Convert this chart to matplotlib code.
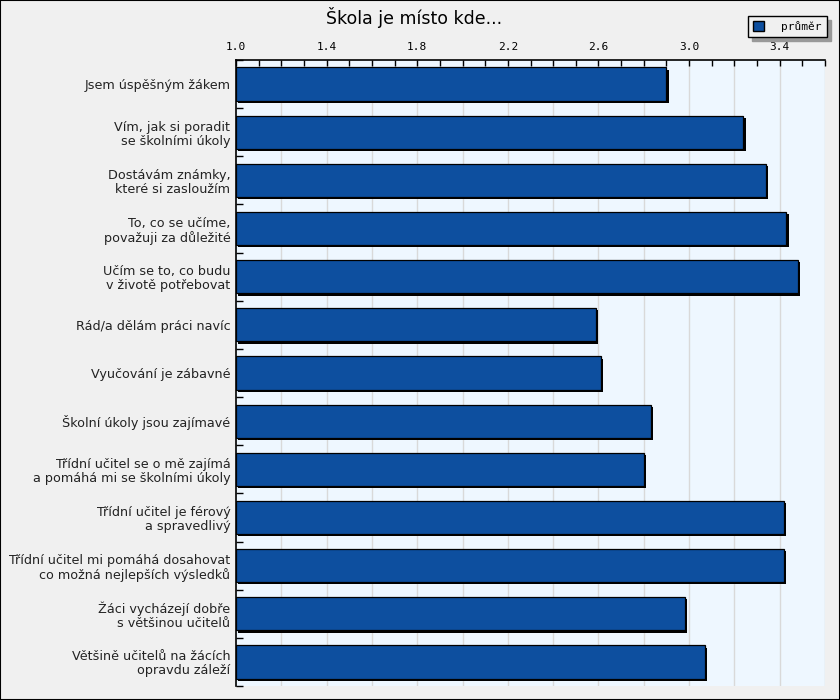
import matplotlib.pyplot as plt
import matplotlib.patheffects as pe
from matplotlib.patches import Patch
from matplotlib.ticker import MultipleLocator

# Data
categories = [
    "Jsem úspěšným žákem",
    "Vím, jak si poradit\nse školními úkoly",
    "Dostávám známky,\nkteré si zasloužím",
    "To, co se učíme,\npovažuji za důležité",
    "Učím se to, co budu\nv životě potřebovat",
    "Rád/a dělám práci navíc",
    "Vyučování je zábavné",
    "Školní úkoly jsou zajímavé",
    "Třídní učitel se o mě zajímá\na pomáhá mi se školními úkoly",
    "Třídní učitel je férový\na spravedlivý",
    "Třídní učitel mi pomáhá dosahovat\nco možná nejlepších výsledků",
    "Žáci vycházejí dobře\ns většinou učitelů",
    "Většině učitelů na žácích\nopravdu záleží",
]
prumer = [2.90, 3.24, 3.34, 3.43, 3.48, 2.59, 2.61, 2.83, 2.80, 3.42, 3.42, 2.98, 3.07]
series_name = "průměr"
title = "Škola je místo kde..."
xtick_vals = [1.0, 1.4, 1.8, 2.2, 2.6, 3.0, 3.4]

bar_color = "#0d4f9f"
bg_color = "#f0f0f0"
plot_bg = "#eef7ff"

fig = plt.figure(figsize=(8.4, 7), dpi=100, facecolor=bg_color)
ax = fig.add_axes([236 / 840, 1 - 686 / 700, (825 - 236) / 840, (686 - 60) / 700])
ax.set_facecolor(plot_bg)

y = list(range(len(categories)))
bars = ax.barh(y, [v - 1.0 for v in prumer], left=1.0, height=0.69,
               color=bar_color, edgecolor="black", linewidth=0.9, zorder=3)
for b in bars:
    b.set_path_effects([pe.SimplePatchShadow(offset=(1.6, -1.6), shadow_rgbFace="black", alpha=1.0),
                        pe.Normal()])

ax.set_xlim(1.0, 3.6)
ax.set_ylim(len(categories) - 0.5, -0.5)

# x axis on top
ax.xaxis.tick_top()
ax.set_xticks(xtick_vals)
ax.set_xticklabels([f"{v:.1f}" for v in xtick_vals], fontfamily="DejaVu Sans Mono", fontsize=8)
ax.xaxis.set_minor_locator(MultipleLocator(0.1))
ax.tick_params(axis="x", which="both", direction="in", length=4, width=1, color="black", pad=6)

# grid every 0.2
for gx in [1.2 + 0.2 * i for i in range(13)]:
    ax.axvline(gx, color="#d9d9d9", linewidth=1, zorder=1)

# y labels
ax.set_yticks(y)
ax.set_yticklabels(categories, fontsize=9.2, color="#222222", linespacing=1.1)
ax.set_yticks([i - 0.5 for i in range(len(categories) + 1)], minor=True)
ax.tick_params(axis="y", which="major", length=0, pad=4)
ax.tick_params(axis="y", which="minor", direction="in", length=5, width=1, color="black")
for lbl in ax.get_yticklabels():
    lbl.set_multialignment("right")

for s in ["bottom", "right"]:
    ax.spines[s].set_visible(False)
ax.spines["left"].set_linewidth(1.2)
ax.spines["top"].set_linewidth(1.2)

fig.text(0.493, 1 - 18 / 700, title, ha="center", va="center", fontsize=12.5, color="black")

handle = Patch(facecolor=bar_color, edgecolor="black", linewidth=1)
leg = ax.legend([handle], [series_name], loc="upper right", bbox_to_anchor=(827 / 840, 1 - 16 / 700),
                bbox_transform=fig.transFigure, fancybox=False, frameon=True,
                facecolor=bg_color, edgecolor="black", framealpha=1,
                prop={"family": "DejaVu Sans Mono", "size": 8},
                handlelength=1.0, handleheight=1.0, borderpad=0.45, handletextpad=1.6,
                borderaxespad=0,
                shadow={"color": "#999999", "alpha": 1.0, "ox": 3, "oy": -3})
leg.get_frame().set_linewidth(1)

# figure border
fig.patches.append(plt.Rectangle((0, 0), 1, 1, transform=fig.transFigure, fill=False,
                                 edgecolor="black", linewidth=1.5))

fig.savefig("out.png", dpi=100, facecolor=bg_color)
